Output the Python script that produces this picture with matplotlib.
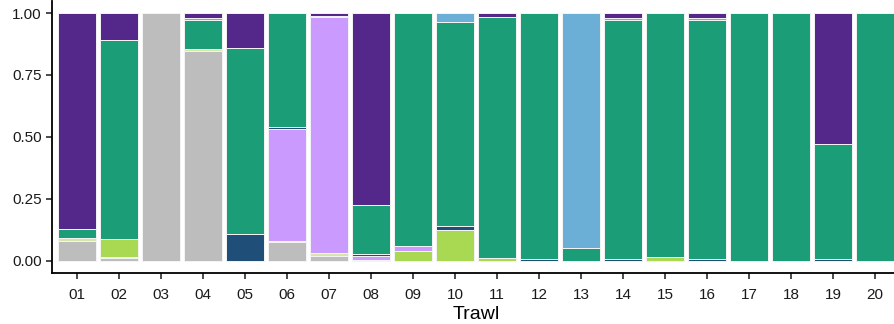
import numpy as np
from matplotlib import pyplot as plt

plt.rcParams['font.family'] = ['Liberation Sans', 'DejaVu Sans']

trawls = ["01", "02", "03", "04", "05", "06", "07", "08", "09", "10",
          "11", "12", "13", "14", "15", "16", "17", "18", "19", "20"]

# proportions per group, stacked bottom to top
gray = [0.080, 0.010, 1.000, 0.848, 0.000, 0.076, 0.020, 0.000, 0.000, 0.000,
        0.000, 0.000, 0.000, 0.000, 0.000, 0.000, 0.000, 0.000, 0.000, 0.000]
pale = [0.010, 0.006, 0.000, 0.006, 0.000, 0.004, 0.012, 0.004, 0.000, 0.000,
        0.000, 0.000, 0.000, 0.000, 0.000, 0.000, 0.000, 0.000, 0.000, 0.000]
lightgreen = [0.000, 0.070, 0.000, 0.000, 0.000, 0.000, 0.000, 0.000, 0.040, 0.126,
              0.010, 0.000, 0.000, 0.000, 0.016, 0.000, 0.000, 0.000, 0.000, 0.000]
lightpurple = [0.000, 0.000, 0.000, 0.000, 0.000, 0.452, 0.950, 0.014, 0.020, 0.000,
               0.000, 0.000, 0.000, 0.000, 0.000, 0.000, 0.000, 0.000, 0.000, 0.000]
darkblue = [0.000, 0.000, 0.000, 0.000, 0.108, 0.008, 0.000, 0.008, 0.000, 0.014,
            0.000, 0.008, 0.000, 0.008, 0.000, 0.006, 0.000, 0.000, 0.006, 0.000]
green = [0.040, 0.804, 0.000, 0.118, 0.750, 0.460, 0.008, 0.200, 0.940, 0.825,
         0.972, 0.992, 0.050, 0.964, 0.984, 0.966, 1.000, 1.000, 0.464, 1.000]
lightblue = [0.000, 0.000, 0.000, 0.006, 0.000, 0.000, 0.000, 0.000, 0.000, 0.035,
             0.000, 0.000, 0.950, 0.006, 0.000, 0.006, 0.000, 0.000, 0.000, 0.000]
purple = [0.870, 0.110, 0.000, 0.022, 0.142, 0.000, 0.010, 0.774, 0.000, 0.000,
          0.018, 0.000, 0.000, 0.022, 0.000, 0.022, 0.000, 0.000, 0.530, 0.000]

layers = [gray, pale, lightgreen, lightpurple, darkblue, green, lightblue, purple]
colors = ["#bdbdbd", "#d6e6ab", "#a9d852", "#cb9aff", "#1f4e79",
          "#1b9e77", "#6baed6", "#54278a"]

fig = plt.figure(figsize=(8.94, 3.24), dpi=100)
ax = fig.add_axes([0.0582, 0.157, 0.949, 0.841])

x = np.arange(1, len(trawls) + 1)
bottom = np.zeros(len(trawls))
for vals, col in zip(layers, colors):
    vals = np.array(vals)
    ax.bar(x, vals, 0.9, bottom=bottom, color=col, edgecolor="#f4f4f4", linewidth=0.7)
    bottom = bottom + vals

ax.set_xlim(0.4, 20.6)
ax.set_ylim(-0.05, 1.05)
ax.set_xticks(x)
ax.set_xticklabels(trawls)
ax.set_yticks([0, 0.25, 0.5, 0.75, 1.0])
ax.set_yticklabels(["0.00", "0.25", "0.50", "0.75", "1.00"])
ax.tick_params(labelsize=11, colors="#1a1a1a", length=4, width=1.1)
ax.tick_params(axis='x', pad=6.5)
ax.spines['top'].set_visible(False)
ax.spines['right'].set_visible(False)
for s in ['left', 'bottom']:
    ax.spines[s].set_linewidth(1.3)
ax.set_xlabel("Trawl", fontsize=14, labelpad=3)

plt.savefig("out.png", dpi=100)
